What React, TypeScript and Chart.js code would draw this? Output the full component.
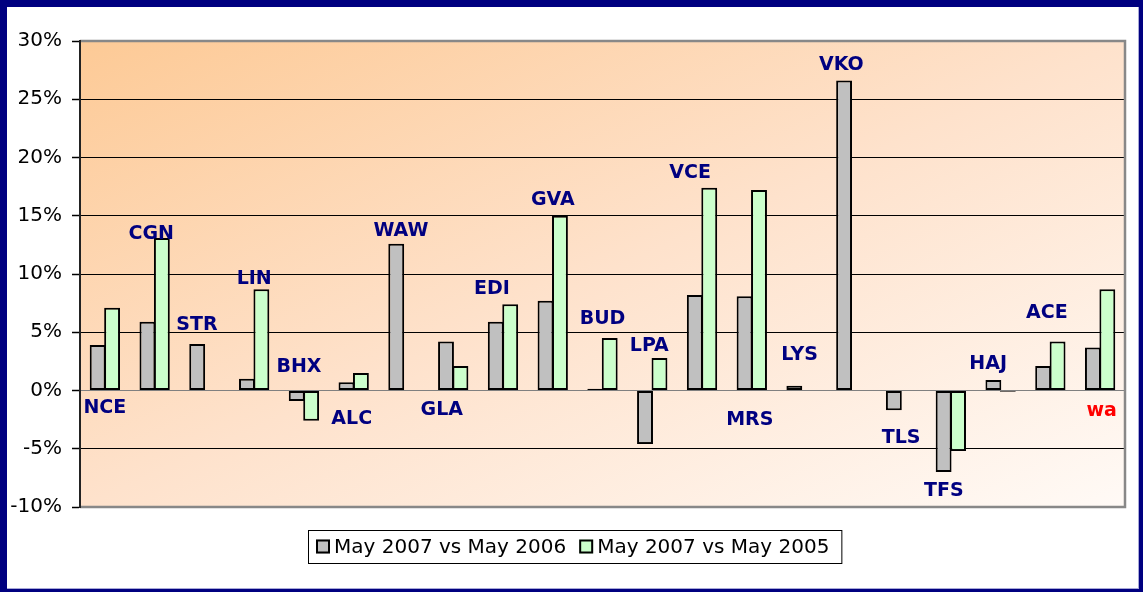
import React, { useEffect, useRef } from 'react';
import { Chart, registerables } from 'chart.js';

Chart.register(...registerables);

// ---- data ----
const categories = ['NCE', 'CGN', 'STR', 'LIN', 'BHX', 'ALC', 'WAW', 'GLA', 'EDI', 'GVA', 'BUD', 'LPA', 'VCE', 'MRS', 'LYS', 'VKO', 'TLS', 'TFS', 'HAJ', 'ACE', 'wa'];
const seriesNames = ['May 2007 vs May 2006', 'May 2007 vs May 2005'];
const may2007vs2006 = [3.9, 5.9, 4.0, 1.0, -0.9, 0.7, 12.6, 4.2, 5.9, 7.7, 0.15, -4.6, 8.2, 8.1, 0.4, 26.6, -1.7, -7.0, 0.9, 2.1, 3.7];
const may2007vs2005 = [7.1, 13.1, null, 8.7, -2.6, 1.5, null, 2.1, 7.4, 15.0, 4.5, 2.8, 17.4, 17.2, null, null, null, -5.2, -0.1, 4.2, 8.7];
const yMin = -10;
const yMax = 30;
const yStep = 5;
// category label anchor (in % units, centre of capitals) and horizontal shift (fraction of category width)
const labelValue = [-1.37, 13.6, 5.8, 9.75, 2.2, -2.3, 13.9, -1.5, 8.9, 16.55, 6.3, 3.95, 18.8, -2.4, 3.2, 28.1, -3.95, -8.5, 2.45, 6.85, -1.57];
const labelShift = [0, -0.07, -0.15, 0, -0.1, -0.04, -0.05, -0.23, -0.22, 0, 0, -0.06, -0.24, -0.04, -0.04, -0.2, 0, -0.14, -0.25, -0.07, 0.03];
const highlightCategory = 'wa';

const seriesColors = ['#C0C0C0', '#CCFFCC'];
const NAVY = '#000080';

const framePlugin = {
  id: 'frameAndBackground',
  beforeDraw(chart: any) {
    const { ctx, width: W, height: H, chartArea: a } = chart;
    ctx.save();
    ctx.fillStyle = '#FFFFFF';
    ctx.fillRect(0, 0, W, H);
    ctx.fillStyle = NAVY;
    ctx.fillRect(0, 0, W, 7);
    ctx.fillRect(0, 0, 7, H);
    ctx.fillRect(W - 4, 0, 4, H);
    ctx.fillRect(0, H - 3, W, 3);
    ctx.fillStyle = '#A8A8D8';
    ctx.fillRect(W - 5, 7, 1, H - 10);
    ctx.fillRect(7, H - 4, W - 11, 1);
    const w = a.right - a.left;
    const h = a.bottom - a.top;
    const k = (2 * w * h) / (w * w + h * h);
    const g = ctx.createLinearGradient(a.left, a.top, a.left + h * k, a.top + w * k);
    g.addColorStop(0, '#FDCA96');
    g.addColorStop(0.5, '#FEE2CC');
    g.addColorStop(1, '#FFFAF6');
    ctx.fillStyle = g;
    ctx.fillRect(a.left, a.top, w, h);
    ctx.restore();
  },
  afterDraw(chart: any) {
    const { ctx, chartArea: a } = chart;
    const xs = chart.scales.x;
    const ys = chart.scales.y;
    ctx.save();
    ctx.strokeStyle = '#888888';
    ctx.lineWidth = 2.5;
    ctx.beginPath();
    ctx.moveTo(a.left, a.top);
    ctx.lineTo(a.right, a.top);
    ctx.lineTo(a.right, a.bottom);
    ctx.lineTo(a.left, a.bottom);
    ctx.stroke();
    ctx.strokeStyle = '#222222';
    ctx.lineWidth = 2;
    ctx.beginPath();
    ctx.moveTo(a.left, a.top - 1);
    ctx.lineTo(a.left, a.bottom + 1);
    ctx.stroke();

    const fs = 19;
    ctx.font = `bold ${fs}px "DejaVu Sans"`;
    ctx.textAlign = 'center';
    ctx.textBaseline = 'alphabetic';
    const catW = (a.right - a.left) / categories.length;
    categories.forEach((c, i) => {
      const x = xs.getPixelForValue(i) + labelShift[i] * catW;
      const y = ys.getPixelForValue(labelValue[i]) + fs * 0.365;
      ctx.fillStyle = c === highlightCategory ? '#FF0000' : NAVY;
      ctx.fillText(c, x, y);
    });

    ctx.font = '20px "DejaVu Sans"';
    ctx.textAlign = 'left';
    ctx.textBaseline = 'middle';
    const left = 308;
    const top = 530;
    const boxH = 33;
    const sq = 14;
    let x = left + 8;
    const cy = top + boxH / 2;
    const items = chart.data.datasets.map((d: any) => ({ label: d.label, color: d.backgroundColor }));
    const positions: any[] = [];
    items.forEach((it: any, idx: number) => {
      const tw = ctx.measureText(it.label).width;
      positions.push({ sx: x, tx: x + sq + 4, it });
      x += sq + 4 + tw + (idx < items.length - 1 ? 13 : 12);
    });
    const right = x;
    ctx.fillStyle = '#FFFFFF';
    ctx.fillRect(left, top, right - left, boxH);
    ctx.strokeStyle = '#000000';
    ctx.lineWidth = 1;
    ctx.strokeRect(left + 0.5, top + 0.5, right - left, boxH);
    positions.forEach((p) => {
      ctx.fillStyle = p.it.color;
      ctx.fillRect(p.sx, cy - sq / 2, sq, sq);
      ctx.strokeStyle = '#000';
      ctx.lineWidth = 2;
      ctx.strokeRect(p.sx + 1, cy - sq / 2 + 1, sq - 2, sq - 2);
      ctx.fillStyle = '#000';
      ctx.fillText(p.it.label, p.tx, cy + 1);
    });
    ctx.restore();
  },
};

export default function App() {
  const ref = useRef<HTMLCanvasElement>(null);
  useEffect(() => {
    const chart = new Chart(ref.current as HTMLCanvasElement, {
      type: 'bar',
      data: {
        labels: categories,
        datasets: [
          {
            label: seriesNames[0],
            data: may2007vs2006,
            backgroundColor: seriesColors[0],
            borderColor: '#000000',
            borderWidth: 2,
            borderSkipped: false,
            inflateAmount: 0,
          },
          {
            label: seriesNames[1],
            data: may2007vs2005 as any,
            backgroundColor: seriesColors[1],
            borderColor: '#000000',
            borderWidth: 2,
            borderSkipped: false,
            inflateAmount: 0,
          },
        ],
      },
      options: {
        responsive: false,
        animation: false,
        devicePixelRatio: 1,
        layout: { padding: { left: 0, top: 41, right: 18, bottom: 85 } },
        datasets: { bar: { categoryPercentage: 0.58, barPercentage: 1.1 } },
        plugins: {
          legend: { display: false },
          tooltip: { enabled: false },
        },
        scales: {
          x: { display: false },
          y: {
            min: yMin,
            max: yMax,
            afterFit: (s: any) => {
              s.width = 80;
            },
            ticks: {
              stepSize: yStep,
              callback: (v: any) => `${v}%`,
              font: { family: 'DejaVu Sans', size: 20 },
              color: '#000000',
              padding: 10,
            },
            grid: {
              color: (c: any) => (c.tick && c.tick.value === 0 ? '#808080' : '#000000'),
              lineWidth: 1,
              drawTicks: true,
              tickLength: 8,
              tickColor: '#000000',
              tickWidth: 1.5,
            },
            border: { display: true, color: '#222222', width: 2 },
          },
        },
      },
      plugins: [framePlugin],
    } as any);
    return () => chart.destroy();
  }, []);
  return (
    <div style={{ position: 'absolute', left: 0, top: 0, width: 1143, height: 592 }}>
      <canvas ref={ref} width={1143} height={592} style={{ display: 'block' }} />
    </div>
  );
}
